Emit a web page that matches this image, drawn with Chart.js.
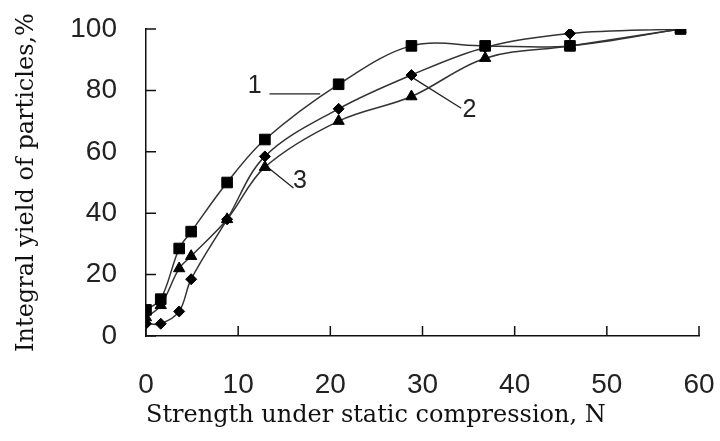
<!DOCTYPE html>
<html>
<head>
<meta charset="utf-8">
<script src="https://cdn.jsdelivr.net/npm/chart.js@4.4.0/dist/chart.umd.min.js"></script>
<style>
  html, body { margin: 0; padding: 0; background: #fff; }
  #wrap { width: 720px; height: 441px; }
</style>
</head>
<body>
<div id="wrap"><canvas id="yieldChart" width="720" height="441"></canvas></div>
<script>
// strength under static compression, N
var strength = [0, 1.6, 3.6, 4.9, 8.8, 12.9, 20.9, 28.8, 36.8, 46, 58];
// integral yield of particles, % (curves 1, 2, 3)
var yield1 = [8.5, 12, 28.5, 34, 50, 64, 82, 94.5, 94.5, 94.5, 100];
var yield2 = [4, 4, 8, 18.5, 38, 58.5, 74, 85, 94, 98.5, 100];
var yield3 = [6, 10, 22, 26, 38, 55, 70, 78, 90.5, 94.5, 100];

var xTicks = [0, 10, 20, 30, 40, 50, 60];
var yTicks = [0, 20, 40, 60, 80, 100];

// curve numbers and their leader lines, in data units
var tagText = ['1', '2', '3'];
var tagPos = [[11.8, 81.3], [35.1, 73.7], [16.7, 50.3]];
var leaderFrom = [[13.4, 78.9], [29.0, 84.0], [13.3, 54.7]];
var leaderTo = [[18.9, 78.9], [34.2, 74.2], [16.0, 48.2]];

function pts(ys) {
    return strength.map(function (x, i) { return { x: x, y: ys[i] }; });
}

// short ticks pointing into the plot, plus the numbered call-outs
var extras = {
    id: 'extras',
    beforeDatasetsDraw: function (chart) {
        var ctx = chart.ctx, sx = chart.scales.x, sy = chart.scales.y, a = chart.chartArea;
        ctx.save();
        ctx.strokeStyle = '#111';
        ctx.lineWidth = 1.5;
        ctx.beginPath();
        xTicks.forEach(function (v) {
            var px = sx.getPixelForValue(v);
            ctx.moveTo(px, a.bottom);
            ctx.lineTo(px, a.bottom - 10);
        });
        yTicks.forEach(function (v) {
            var py = sy.getPixelForValue(v);
            ctx.moveTo(a.left, py);
            ctx.lineTo(a.left + 10, py);
        });
        ctx.stroke();

        ctx.lineWidth = 1.3;
        ctx.strokeStyle = '#222';
        ctx.beginPath();
        leaderFrom.forEach(function (p, i) {
            ctx.moveTo(sx.getPixelForValue(p[0]), sy.getPixelForValue(p[1]));
            ctx.lineTo(sx.getPixelForValue(leaderTo[i][0]), sy.getPixelForValue(leaderTo[i][1]));
        });
        ctx.stroke();

        ctx.fillStyle = '#222';
        ctx.font = '25px "Liberation Sans", Arial, sans-serif';
        ctx.textAlign = 'center';
        ctx.textBaseline = 'middle';
        tagText.forEach(function (t, i) {
            ctx.fillText(t, sx.getPixelForValue(tagPos[i][0]), sy.getPixelForValue(tagPos[i][1]));
        });
        ctx.restore();
    }
};

function series(ys, style, r) {
    return {
        data: pts(ys),
        borderColor: '#333',
        borderWidth: 1.5,
        tension: 0.35,
        pointStyle: style,
        pointRadius: r,
        pointBackgroundColor: '#000',
        pointBorderColor: '#000',
        pointBorderWidth: 1,
        fill: false
    };
}

var tickFont = { family: '"Liberation Sans", Arial, sans-serif', size: 28 };
var titleFont = { family: '"DejaVu Serif", serif', size: 24 };

new Chart(document.getElementById('yieldChart').getContext('2d'), {
    type: 'line',
    data: {
        datasets: [
            series(yield1, 'rect', 7.5),
            series(yield2, 'rectRot', 5.5),
            series(yield3, 'triangle', 6.5)
        ]
    },
    options: {
        responsive: false,
        animation: false,
        layout: { padding: { left: 0, right: 21, top: 29, bottom: 0 } },
        plugins: { legend: { display: false }, tooltip: { enabled: false } },
        scales: {
            x: {
                type: 'linear', min: 0, max: 60,
                afterBuildTicks: function (s) { s.ticks = xTicks.map(function (v) { return { value: v }; }); },
                afterFit: function (s) { s.height = 105; s.paddingLeft = 0; s.paddingRight = 0; },
                grid: { display: false, drawTicks: false },
                border: { display: true, color: '#111', width: 1.5 },
                ticks: { padding: 32, font: tickFont, color: '#222', maxRotation: 0 },
                title: {
                    display: true, text: 'Strength under static compression, N', align: 'start',
                    font: titleFont, color: '#111', padding: { top: 0, bottom: 11 }
                }
            },
            y: {
                min: 0, max: 100,
                afterBuildTicks: function (s) { s.ticks = yTicks.map(function (v) { return { value: v }; }); },
                afterFit: function (s) { s.width = 146; s.paddingTop = 0; s.paddingBottom = 0; },
                grid: { display: false, drawTicks: false },
                border: { display: true, color: '#111', width: 1.5 },
                ticks: { padding: 29, font: tickFont, color: '#222' },
                title: {
                    display: true, text: 'Integral yield of particles,%',
                    font: titleFont, color: '#111', padding: { top: 12, bottom: 0 }
                }
            }
        }
    },
    plugins: [extras]
});
</script>
</body>
</html>
